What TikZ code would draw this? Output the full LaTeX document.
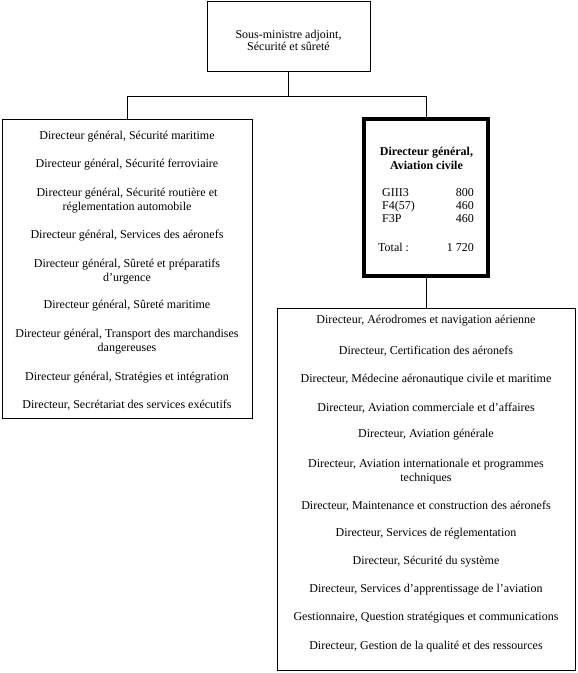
\documentclass[tikz,border=0pt]{standalone}
\usepackage{fontspec}
\setmainfont{Liberation Serif}
\tikzset{
  box/.style={draw, line width=0.9pt, inner sep=0pt},
  thickbox/.style={draw, line width=3.8pt, inner sep=0pt},
  txt/.style={font=\fontsize{12}{14}\selectfont, align=center, inner sep=0pt, yshift=-2pt},
  lbl/.style={font=\fontsize{12}{14}\selectfont, inner sep=0pt, text height=8.5pt, text depth=2.5pt, yshift=-1.5pt},
  conn/.style={line width=0.9pt}
}
\begin{document}
\begin{tikzpicture}[x=1pt,y=-1pt]
\useasboundingbox (0,0) rectangle (578,673);
% boxes
\node[box, minimum width=163pt, minimum height=70pt] (top) at (288.5,36) {};
\node[box, minimum width=250pt, minimum height=299pt] (left) at (127,268.5) {};
\node[thickbox, minimum width=124pt, minimum height=157pt] (mid) at (426,197.5) {};
\node[box, minimum width=298pt, minimum height=362pt] (right) at (426,489) {};
% connectors
\coordinate (bus) at (288.5,96);
\draw[conn] (top.south) -- (bus);
\draw[conn] (bus) -| (left.north);
\draw[conn] (bus) -| (mid.north);
\draw[conn] (mid.south) -- (right.north);
% top text
\node[txt, font=\fontsize{12}{12}\selectfont] (ttop) at (288.5,38) {Sous-ministre adjoint,\\Sécurité et sûreté};
% left text
\node[txt] (l1) at (127,135) {Directeur général, Sécurité maritime};
\node[txt] (l2) at (127,163) {Directeur général, Sécurité ferroviaire};
\node[txt] (l3) at (127,198.5) {Directeur général, Sécurité routière et\\réglementation automobile};
\node[txt] (l4) at (127,234) {Directeur général, Services des aéronefs};
\node[txt] (l5) at (127,269.5) {Directeur général, Sûreté et préparatifs\\d’urgence};
\node[txt] (l6) at (127,304) {Directeur général, Sûreté maritime};
\node[txt] (l7) at (127,340) {Directeur général, Transport des marchandises\\dangereuses};
\node[txt] (l8) at (127,376) {Directeur général, Stratégies et intégration};
\node[txt] (l9) at (127,403) {Directeur, Secrétariat des services exécutifs};
% middle text
\node[txt, font=\fontsize{12}{14}\selectfont\bfseries] (mtitle) at (426.5,156) {Directeur général,\\Aviation civile};
\node[lbl, anchor=west] (g1) at (382,192) {GIII3};
\node[lbl, anchor=east] (g1v) at (474,192) {800};
\node[lbl, anchor=west] (g2) at (382,205) {F4(57)};
\node[lbl, anchor=east] (g2v) at (474,205) {460};
\node[lbl, anchor=west] (g3) at (382,218) {F3P};
\node[lbl, anchor=east] (g3v) at (474,218) {460};
\node[lbl, anchor=west] (tot) at (378,247) {Total :};
\node[lbl, anchor=east] (totv) at (474,247) {1 720};
% right text
\node[txt] (r1) at (426,319) {Directeur, Aérodromes et navigation aérienne};
\node[txt] (r2) at (426,349) {Directeur, Certification des aéronefs};
\node[txt] (r3) at (426,378) {Directeur, Médecine aéronautique civile et maritime};
\node[txt] (r4) at (426,406) {Directeur, Aviation commerciale et d’affaires};
\node[txt] (r5) at (426,433) {Directeur, Aviation générale};
\node[txt] (r6) at (426,469.5) {Directeur, Aviation internationale et programmes\\techniques};
\node[txt] (r7) at (426,504) {Directeur, Maintenance et construction des aéronefs};
\node[txt] (r8) at (426,532) {Directeur, Services de réglementation};
\node[txt] (r9) at (426,560) {Directeur, Sécurité du système};
\node[txt] (r10) at (426,588) {Directeur, Services d’apprentissage de l’aviation};
\node[txt] (r11) at (426,616) {Gestionnaire, Question stratégiques et communications};
\node[txt] (r12) at (426,645) {Directeur, Gestion de la qualité et des ressources};
\end{tikzpicture}
\end{document}
